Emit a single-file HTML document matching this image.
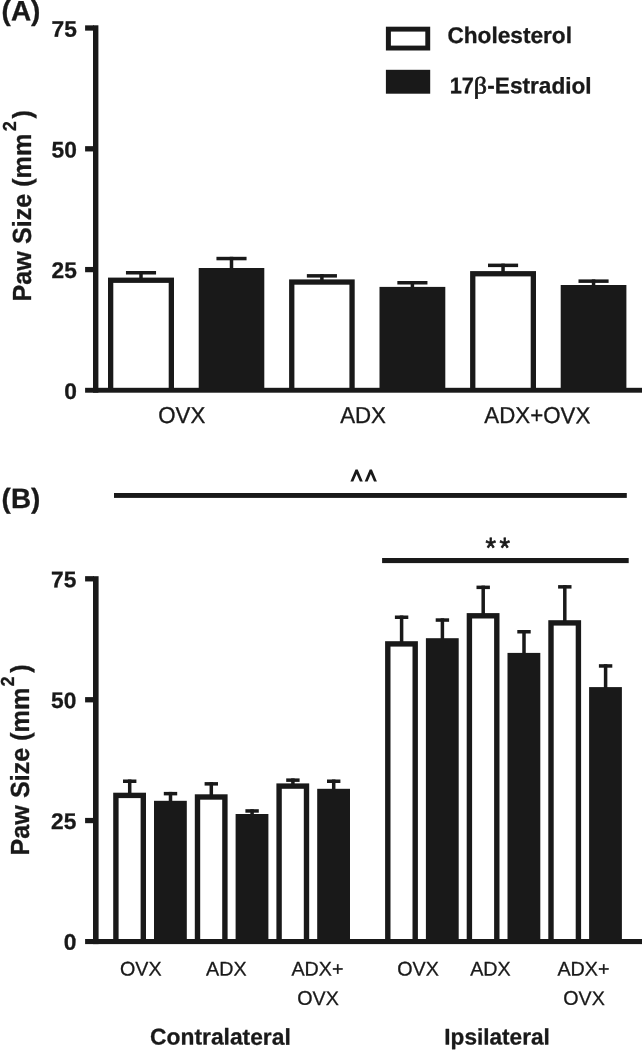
<!DOCTYPE html>
<html><head><meta charset="utf-8"><title>Paw size</title>
<style>
html,body{margin:0;padding:0;background:#ffffff;}
body{width:642px;height:1050px;overflow:hidden;font-family:"Liberation Sans",sans-serif;}
svg{display:block;will-change:transform;filter:grayscale(1);}
text{text-rendering:geometricPrecision;}
</style></head>
<body>
<svg width="642" height="1050" viewBox="0 0 642 1050" shape-rendering="auto">
<rect x="0" y="0" width="642" height="1050" fill="#ffffff"/>
<rect x="125.95" y="271.00" width="30.10" height="3.50" fill="#191919"/>
<rect x="139.25" y="271.00" width="3.50" height="7.60" fill="#191919"/>
<rect x="108.00" y="277.60" width="66.00" height="112.60" fill="#191919"/>
<rect x="113.30" y="282.90" width="55.40" height="107.30" fill="#ffffff"/>
<rect x="216.45" y="256.80" width="30.10" height="3.50" fill="#191919"/>
<rect x="229.75" y="256.80" width="3.50" height="12.20" fill="#191919"/>
<rect x="198.70" y="268.00" width="65.60" height="122.20" fill="#191919"/>
<rect x="306.85" y="274.10" width="30.10" height="3.50" fill="#191919"/>
<rect x="320.15" y="274.10" width="3.50" height="6.30" fill="#191919"/>
<rect x="289.10" y="279.40" width="65.60" height="110.80" fill="#191919"/>
<rect x="294.40" y="284.70" width="55.00" height="105.50" fill="#ffffff"/>
<rect x="397.35" y="281.00" width="30.10" height="3.50" fill="#191919"/>
<rect x="410.65" y="281.00" width="3.50" height="6.90" fill="#191919"/>
<rect x="379.50" y="286.90" width="65.80" height="103.30" fill="#191919"/>
<rect x="488.00" y="263.60" width="30.10" height="3.50" fill="#191919"/>
<rect x="501.30" y="263.60" width="3.50" height="8.50" fill="#191919"/>
<rect x="470.10" y="271.10" width="65.90" height="119.10" fill="#191919"/>
<rect x="475.40" y="276.40" width="55.30" height="113.80" fill="#ffffff"/>
<rect x="578.50" y="279.40" width="30.10" height="3.50" fill="#191919"/>
<rect x="591.80" y="279.40" width="3.50" height="6.60" fill="#191919"/>
<rect x="560.70" y="285.00" width="65.70" height="105.20" fill="#191919"/>
<rect x="93.00" y="25.30" width="5.40" height="367.40" fill="#191919"/>
<rect x="85.10" y="25.35" width="8.90" height="5.30" fill="#191919"/>
<rect x="85.10" y="146.15" width="8.90" height="5.30" fill="#191919"/>
<rect x="85.10" y="266.95" width="8.90" height="5.30" fill="#191919"/>
<rect x="85.10" y="387.80" width="556.90" height="4.90" fill="#191919"/>
<text transform="translate(76.80,36.85) skewY(0.08) scale(1.0,0.995)" font-family="Liberation Sans, sans-serif" font-size="22.75" font-weight="bold" text-anchor="end" fill="#191919" stroke="#191919" stroke-width="0.3" stroke-linejoin="round">75</text>
<text transform="translate(76.80,157.45) skewY(0.08) scale(1.0,0.995)" font-family="Liberation Sans, sans-serif" font-size="22.75" font-weight="bold" text-anchor="end" fill="#191919" stroke="#191919" stroke-width="0.3" stroke-linejoin="round">50</text>
<text transform="translate(76.80,278.10) skewY(0.08) scale(1.0,0.995)" font-family="Liberation Sans, sans-serif" font-size="22.75" font-weight="bold" text-anchor="end" fill="#191919" stroke="#191919" stroke-width="0.3" stroke-linejoin="round">25</text>
<text transform="translate(76.80,398.95) skewY(0.08) scale(1.0,0.995)" font-family="Liberation Sans, sans-serif" font-size="22.75" font-weight="bold" text-anchor="end" fill="#191919" stroke="#191919" stroke-width="0.3" stroke-linejoin="round">0</text>
<text transform="translate(1.60,20.30) skewY(0.08) scale(1.0,1.0)" font-family="Liberation Sans, sans-serif" font-size="27.9" font-weight="bold" text-anchor="start" fill="#191919" stroke="#191919" stroke-width="0.3" stroke-linejoin="round">(A)</text>
<rect x="385.90" y="26.70" width="44.30" height="23.80" fill="#191919"/>
<rect x="390.90" y="31.60" width="34.40" height="14.00" fill="#ffffff"/>
<rect x="385.90" y="69.80" width="44.30" height="23.90" fill="#191919"/>
<text transform="translate(447.40,42.90) skewY(0.08) scale(1.0,1.0)" font-family="Liberation Sans, sans-serif" font-size="22.65" font-weight="bold" text-anchor="start" fill="#191919" stroke="#191919" stroke-width="0.3" stroke-linejoin="round">Cholesterol</text>
<text transform="translate(449.65,93.30) skewY(0.08) scale(0.96,1.0)" font-family="Liberation Sans, sans-serif" font-size="22.7" font-weight="bold" text-anchor="start" fill="#191919" stroke="#191919" stroke-width="0.3" stroke-linejoin="round">17</text>
<text transform="translate(473.80,93.50) skewY(0.08) scale(1.09,1.0)" font-family="Liberation Serif, sans-serif" font-size="23.8" text-anchor="start" fill="#191919" stroke="#191919" stroke-width="0.7">β</text>
<text transform="translate(487.30,93.30) skewY(0.08) scale(0.997,1.0)" font-family="Liberation Sans, sans-serif" font-size="22.7" font-weight="bold" text-anchor="start" fill="#191919" stroke="#191919" stroke-width="0.3" stroke-linejoin="round">-Estradiol</text>
<text transform="translate(181.80,423.10) skewY(0.08) scale(1.0,1.035)" font-family="Liberation Sans, sans-serif" font-size="22.3" text-anchor="middle" fill="#191919" stroke="#191919" stroke-width="0.3" stroke-linejoin="round">OVX</text>
<text transform="translate(363.05,423.10) skewY(0.08) scale(1.0,1.035)" font-family="Liberation Sans, sans-serif" font-size="22.3" text-anchor="middle" fill="#191919" stroke="#191919" stroke-width="0.3" stroke-linejoin="round">ADX</text>
<text transform="translate(537.35,423.10) skewY(0.08) scale(1.0,1.035)" font-family="Liberation Sans, sans-serif" font-size="22.3" text-anchor="middle" fill="#191919" stroke="#191919" stroke-width="0.3" stroke-linejoin="round">ADX+OVX</text>
<text transform="translate(30.90,301.40) rotate(-90) scale(1,1.04)" font-family="Liberation Sans, sans-serif" font-size="25.15" font-weight="bold" fill="#191919" stroke="#191919" stroke-width="0.3" stroke-linejoin="round">Paw Size (mm<tspan font-size="18.1" dx="2.5" dy="-14.1">2</tspan><tspan dx="2.6" dy="14.1">)</tspan></text>
<rect x="123.00" y="779.50" width="13.40" height="3.50" fill="#191919"/>
<rect x="127.95" y="779.50" width="3.50" height="14.20" fill="#191919"/>
<rect x="113.20" y="792.70" width="32.80" height="148.80" fill="#191919"/>
<rect x="118.60" y="798.10" width="22.00" height="143.40" fill="#ffffff"/>
<rect x="163.80" y="791.90" width="13.40" height="3.50" fill="#191919"/>
<rect x="168.75" y="791.90" width="3.50" height="9.90" fill="#191919"/>
<rect x="154.00" y="800.80" width="32.80" height="140.70" fill="#191919"/>
<rect x="204.60" y="782.10" width="13.40" height="3.50" fill="#191919"/>
<rect x="209.55" y="782.10" width="3.50" height="13.20" fill="#191919"/>
<rect x="194.80" y="794.30" width="32.80" height="147.20" fill="#191919"/>
<rect x="200.20" y="799.70" width="22.00" height="141.80" fill="#ffffff"/>
<rect x="245.40" y="809.20" width="13.40" height="3.50" fill="#191919"/>
<rect x="250.35" y="809.20" width="3.50" height="5.80" fill="#191919"/>
<rect x="235.60" y="814.00" width="32.80" height="127.50" fill="#191919"/>
<rect x="286.20" y="778.40" width="13.40" height="3.50" fill="#191919"/>
<rect x="291.15" y="778.40" width="3.50" height="6.00" fill="#191919"/>
<rect x="276.40" y="783.40" width="32.80" height="158.10" fill="#191919"/>
<rect x="281.80" y="788.80" width="22.00" height="152.70" fill="#ffffff"/>
<rect x="327.00" y="779.50" width="13.40" height="3.50" fill="#191919"/>
<rect x="331.95" y="779.50" width="3.50" height="10.30" fill="#191919"/>
<rect x="317.20" y="788.80" width="32.80" height="152.70" fill="#191919"/>
<rect x="394.90" y="615.50" width="13.40" height="3.50" fill="#191919"/>
<rect x="399.85" y="615.50" width="3.50" height="26.70" fill="#191919"/>
<rect x="385.10" y="641.20" width="32.80" height="300.30" fill="#191919"/>
<rect x="390.50" y="646.60" width="22.00" height="294.90" fill="#ffffff"/>
<rect x="435.70" y="618.30" width="13.40" height="3.50" fill="#191919"/>
<rect x="440.65" y="618.30" width="3.50" height="20.90" fill="#191919"/>
<rect x="425.90" y="638.20" width="32.80" height="303.30" fill="#191919"/>
<rect x="476.50" y="585.60" width="13.40" height="3.50" fill="#191919"/>
<rect x="481.45" y="585.60" width="3.50" height="28.50" fill="#191919"/>
<rect x="466.70" y="613.10" width="32.80" height="328.40" fill="#191919"/>
<rect x="472.10" y="618.50" width="22.00" height="323.00" fill="#ffffff"/>
<rect x="517.30" y="630.00" width="13.40" height="3.50" fill="#191919"/>
<rect x="522.25" y="630.00" width="3.50" height="23.90" fill="#191919"/>
<rect x="507.50" y="652.90" width="32.80" height="288.60" fill="#191919"/>
<rect x="558.10" y="585.10" width="13.40" height="3.50" fill="#191919"/>
<rect x="563.05" y="585.10" width="3.50" height="36.10" fill="#191919"/>
<rect x="548.30" y="620.20" width="32.80" height="321.30" fill="#191919"/>
<rect x="553.70" y="625.60" width="22.00" height="315.90" fill="#ffffff"/>
<rect x="598.90" y="664.20" width="13.40" height="3.50" fill="#191919"/>
<rect x="603.85" y="664.20" width="3.50" height="23.90" fill="#191919"/>
<rect x="589.10" y="687.10" width="32.80" height="254.40" fill="#191919"/>
<rect x="93.00" y="576.20" width="5.60" height="367.90" fill="#191919"/>
<rect x="85.10" y="576.15" width="8.90" height="5.30" fill="#191919"/>
<rect x="85.10" y="697.10" width="8.90" height="5.30" fill="#191919"/>
<rect x="85.10" y="817.90" width="8.90" height="5.30" fill="#191919"/>
<rect x="85.10" y="939.00" width="556.90" height="5.10" fill="#191919"/>
<text transform="translate(76.35,587.20) skewY(0.08) scale(1.0,0.995)" font-family="Liberation Sans, sans-serif" font-size="22.75" font-weight="bold" text-anchor="end" fill="#191919" stroke="#191919" stroke-width="0.3" stroke-linejoin="round">75</text>
<text transform="translate(76.35,708.15) skewY(0.08) scale(1.0,0.995)" font-family="Liberation Sans, sans-serif" font-size="22.75" font-weight="bold" text-anchor="end" fill="#191919" stroke="#191919" stroke-width="0.3" stroke-linejoin="round">50</text>
<text transform="translate(76.35,828.95) skewY(0.08) scale(1.0,0.995)" font-family="Liberation Sans, sans-serif" font-size="22.75" font-weight="bold" text-anchor="end" fill="#191919" stroke="#191919" stroke-width="0.3" stroke-linejoin="round">25</text>
<text transform="translate(76.35,949.80) skewY(0.08) scale(1.0,0.995)" font-family="Liberation Sans, sans-serif" font-size="22.75" font-weight="bold" text-anchor="end" fill="#191919" stroke="#191919" stroke-width="0.3" stroke-linejoin="round">0</text>
<text transform="translate(1.60,507.90) skewY(0.08) scale(1.0,1.0)" font-family="Liberation Sans, sans-serif" font-size="27.9" font-weight="bold" text-anchor="start" fill="#191919" stroke="#191919" stroke-width="0.3" stroke-linejoin="round">(B)</text>
<text transform="translate(28.90,855.40) rotate(-90) scale(1,1.04)" font-family="Liberation Sans, sans-serif" font-size="25.15" font-weight="bold" fill="#191919" stroke="#191919" stroke-width="0.3" stroke-linejoin="round">Paw Size (mm<tspan font-size="18.1" dx="1.2" dy="-14.1">2</tspan><tspan dx="3.7" dy="14.1">)</tspan></text>
<rect x="114.00" y="493.00" width="512.80" height="4.90" fill="#191919"/>
<rect x="382.10" y="558.00" width="246.60" height="5.10" fill="#191919"/>
<text transform="translate(485.60,557.60) skewY(0.08) scale(1.0,1.06)" font-family="Liberation Sans, sans-serif" font-size="27" text-anchor="start" fill="#191919" letter-spacing="3.5" stroke="#191919" stroke-width="0.7" stroke-linejoin="round">**</text>
<polygon fill="#191919" points="350.40,481.60 355.50,469.50 357.70,469.50 362.80,481.60 359.90,481.60 356.60,474.03 353.30,481.60"/>
<polygon fill="#191919" points="364.70,481.60 369.70,469.50 371.90,469.50 376.90,481.60 374.00,481.60 370.80,474.10 367.60,481.60"/>
<text transform="translate(140.80,975.45) skewY(0.08) scale(1.0,1.0)" font-family="Liberation Sans, sans-serif" font-size="19.7" text-anchor="middle" fill="#191919" stroke="#191919" stroke-width="0.3" stroke-linejoin="round">OVX</text>
<text transform="translate(226.30,975.45) skewY(0.08) scale(1.0,1.0)" font-family="Liberation Sans, sans-serif" font-size="19.7" text-anchor="middle" fill="#191919" stroke="#191919" stroke-width="0.3" stroke-linejoin="round">ADX</text>
<text transform="translate(317.40,975.45) skewY(0.08) scale(1.0,1.0)" font-family="Liberation Sans, sans-serif" font-size="19.7" text-anchor="middle" fill="#191919" stroke="#191919" stroke-width="0.3" stroke-linejoin="round">ADX+</text>
<text transform="translate(318.00,1004.90) skewY(0.08) scale(1.0,1.0)" font-family="Liberation Sans, sans-serif" font-size="19.7" text-anchor="middle" fill="#191919" stroke="#191919" stroke-width="0.3" stroke-linejoin="round">OVX</text>
<text transform="translate(418.00,975.45) skewY(0.08) scale(1.0,1.0)" font-family="Liberation Sans, sans-serif" font-size="19.7" text-anchor="middle" fill="#191919" stroke="#191919" stroke-width="0.3" stroke-linejoin="round">OVX</text>
<text transform="translate(490.45,975.45) skewY(0.08) scale(1.0,1.0)" font-family="Liberation Sans, sans-serif" font-size="19.7" text-anchor="middle" fill="#191919" stroke="#191919" stroke-width="0.3" stroke-linejoin="round">ADX</text>
<text transform="translate(583.45,975.45) skewY(0.08) scale(1.0,1.0)" font-family="Liberation Sans, sans-serif" font-size="19.7" text-anchor="middle" fill="#191919" stroke="#191919" stroke-width="0.3" stroke-linejoin="round">ADX+</text>
<text transform="translate(584.05,1004.90) skewY(0.08) scale(1.0,1.0)" font-family="Liberation Sans, sans-serif" font-size="19.7" text-anchor="middle" fill="#191919" stroke="#191919" stroke-width="0.3" stroke-linejoin="round">OVX</text>
<text transform="translate(150.10,1044.50) skewY(0.08) scale(1.0,1.0)" font-family="Liberation Sans, sans-serif" font-size="22.8" font-weight="bold" text-anchor="start" fill="#191919" stroke="#191919" stroke-width="0.3" stroke-linejoin="round">Contralateral</text>
<text transform="translate(444.30,1044.40) skewY(0.08) scale(1.0,1.0)" font-family="Liberation Sans, sans-serif" font-size="22.6" font-weight="bold" text-anchor="start" fill="#191919" stroke="#191919" stroke-width="0.3" stroke-linejoin="round">Ipsilateral</text>
</svg>
</body></html>
